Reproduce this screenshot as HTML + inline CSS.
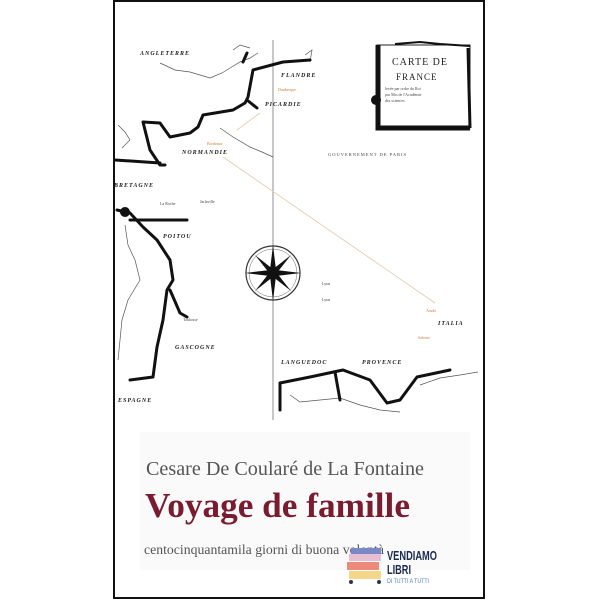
<!DOCTYPE html>
<html><head><meta charset="utf-8"><style>
html,body{margin:0;padding:0;background:#fff;width:600px;height:600px;overflow:hidden}
svg{display:block}
.lb{font-family:"Liberation Serif",serif;font-weight:bold;font-style:italic;font-size:6px;letter-spacing:1px;fill:#222}
.sm{font-family:"Liberation Serif",serif;font-size:4px;fill:#444}
.or{font-family:"Liberation Serif",serif;font-size:4px;fill:#d07a3a}
</style></head><body>
<svg width="600" height="600" viewBox="0 0 600 600" xmlns="http://www.w3.org/2000/svg">
<rect x="0" y="0" width="600" height="600" fill="#fff"/>
<rect x="114" y="1" width="370" height="597" fill="#fff" stroke="#111" stroke-width="2"/>
<rect x="140" y="432" width="330" height="138" fill="#fafafa"/>
<line x1="273" y1="40" x2="273" y2="420" stroke="#777" stroke-width="0.8"/>
<polyline points="223,157 435,303" fill="none" stroke="#e6c8a8" stroke-width="0.8"/>
<polyline points="237,130 260,113" fill="none" stroke="#e6c8a8" stroke-width="0.8"/>
<g fill="none" stroke="#555" stroke-width="0.7">
<polyline points="160,63 175,70 190,72 210,78 222,73 230,68 240,62 250,58 258,53"/>
<polyline points="220,128 233,137 250,147 262,152 273,157"/>
<polyline points="118,125 125,132 130,140 122,148"/>
<polyline points="125,225 128,245 135,260 140,280 128,300 122,320 120,340 118,360"/>
<polyline points="290,395 300,402 320,400 340,398 360,405 380,410 400,412"/>
<polyline points="420,385 440,378 460,375 478,372"/>
<polyline points="233,50 240,45 250,48"/>
<polyline points="305,55 312,50 310,62"/>
</g>
<g fill="none" stroke="#111" stroke-width="3" stroke-linejoin="round" stroke-linecap="round">
<polyline points="310,60 283,62 253,70 248,97 245,103 233,110 203,115 198,127 190,133 170,137 160,123 143,122 145,130 150,150 160,165 165,165"/>
<polyline points="115,160 160,163"/>
<polyline points="247,100 257,108"/>
<polyline points="243,62 247,53"/>
<polyline points="117,210 130,213 143,227 157,240 170,260 173,280 167,290 163,320 157,347 153,377 130,380"/>
<polyline points="170,290 180,313 187,317"/>
<polyline points="130,220 187,220"/>
<polyline points="280,383 310,377 343,370 370,380 387,403 400,400 417,377 450,370"/>
<polyline points="280,383 280,410"/>
<polyline points="335,372 340,400"/>
</g>
<circle cx="125" cy="212" r="5" fill="#111"/>
<path d="M377,45 L470,45 L470,128 L377,128 Z" fill="none" stroke="#222" stroke-width="1"/>
<path d="M378,45 L378,128 L470,128" fill="none" stroke="#111" stroke-width="5"/>
<path d="M395,44 L420,42 L440,44 L470,46" fill="none" stroke="#111" stroke-width="2"/>
<path d="M468,48 L470,128" fill="none" stroke="#111" stroke-width="3"/>
<circle cx="376" cy="100" r="5" fill="#111"/>
<text x="392" y="65" style="font-family:'Liberation Serif',serif;font-size:10px;letter-spacing:1px;fill:#222">CARTE DE</text>
<text x="396" y="80" style="font-family:'Liberation Serif',serif;font-size:9px;letter-spacing:1px;fill:#222">FRANCE</text>
<text x="385" y="90" class="sm">levée par ordre du Roi</text>
<text x="385" y="96" class="sm">par Mrs de l'Académie</text>
<text x="385" y="102" class="sm">des sciences</text>
<circle cx="273" cy="273" r="27" fill="none" stroke="#333" stroke-width="1.2"/>
<circle cx="273" cy="273" r="24" fill="none" stroke="#666" stroke-width="0.5"/>
<g fill="#111">
<polygon points="273,245 276,270 273,273 270,270"/>
<polygon points="273,301 276,276 273,273 270,276"/>
<polygon points="245,273 270,270 273,273 270,276"/>
<polygon points="301,273 276,270 273,273 276,276"/>
<polygon points="255,255 274,270 273,273 270,274"/>
<polygon points="291,291 272,276 273,273 276,272"/>
<polygon points="291,255 276,274 273,273 272,270"/>
<polygon points="255,291 270,272 273,273 274,276"/>
</g>
<text x="140" y="55" class="lb">ANGLETERRE</text>
<text x="281" y="77" class="lb">FLANDRE</text>
<text x="265" y="106" class="lb">PICARDIE</text>
<text x="182" y="154" class="lb">NORMANDIE</text>
<text x="328" y="156" class="sm" style="font-size:4.5px;letter-spacing:1px">GOUVERNEMENT DE PARIS</text>
<text x="114" y="187" class="lb">BRETAGNE</text>
<text x="163" y="238" class="lb">POITOU</text>
<text x="175" y="349" class="lb">GASCOGNE</text>
<text x="281" y="364" class="lb">LANGUEDOC</text>
<text x="362" y="364" class="lb">PROVENCE</text>
<text x="118" y="402" class="lb">ESPAGNE</text>
<text x="438" y="325" class="lb">ITALIA</text>
<text x="278" y="91" class="or">Dunkerque</text>
<text x="207" y="145" class="or">Bordeaux</text>
<text x="426" y="312" class="or">Arudo</text>
<text x="418" y="339" class="or">Salerno</text>
<text x="160" y="205" class="sm">La Roche</text>
<text x="200" y="203" class="sm">Jarlaville</text>
<text x="183" y="321" class="sm">Toulouse</text>
<text x="322" y="285" class="sm">Lyon</text>
<text x="322" y="301" class="sm">Lyon</text>
<text x="146" y="475" textLength="278" lengthAdjust="spacingAndGlyphs" style="font-family:'Liberation Serif',serif;font-size:20px;fill:#555">Cesare De Coularé de La Fontaine</text>
<text x="145" y="517" textLength="265" lengthAdjust="spacingAndGlyphs" style="font-family:'Liberation Serif',serif;font-size:35px;font-weight:bold;fill:#7a1c30">Voyage de famille</text>
<text x="144" y="554" textLength="240" lengthAdjust="spacingAndGlyphs" style="font-family:'Liberation Serif',serif;font-size:14px;fill:#555">centocinquantamila giorni di buona volontà</text>
<rect x="351" y="548" width="30" height="6" fill="#7b88c8"/>
<rect x="349" y="554" width="32" height="7" fill="#e6bfd2"/>
<rect x="347" y="562" width="32" height="8" fill="#ee8a7c"/>
<rect x="349" y="571" width="32" height="8" fill="#f5d68a"/>
<circle cx="351" cy="582" r="2" fill="#2a3350"/>
<circle cx="379" cy="582" r="2" fill="#2a3350"/>
<text x="387" y="560" textLength="50" lengthAdjust="spacingAndGlyphs" style="font-family:'Liberation Sans',sans-serif;font-size:12.5px;font-weight:bold;fill:#1c2a4f">VENDIAMO</text>
<text x="387" y="574" textLength="24" lengthAdjust="spacingAndGlyphs" style="font-family:'Liberation Sans',sans-serif;font-size:12.5px;font-weight:bold;fill:#1c2a4f">LIBRI</text>
<text x="387" y="583" textLength="42" lengthAdjust="spacingAndGlyphs" style="font-family:'Liberation Sans',sans-serif;font-size:6.5px;fill:#4a7fc0">DI TUTTI A TUTTI</text>
</svg>
</body></html>
